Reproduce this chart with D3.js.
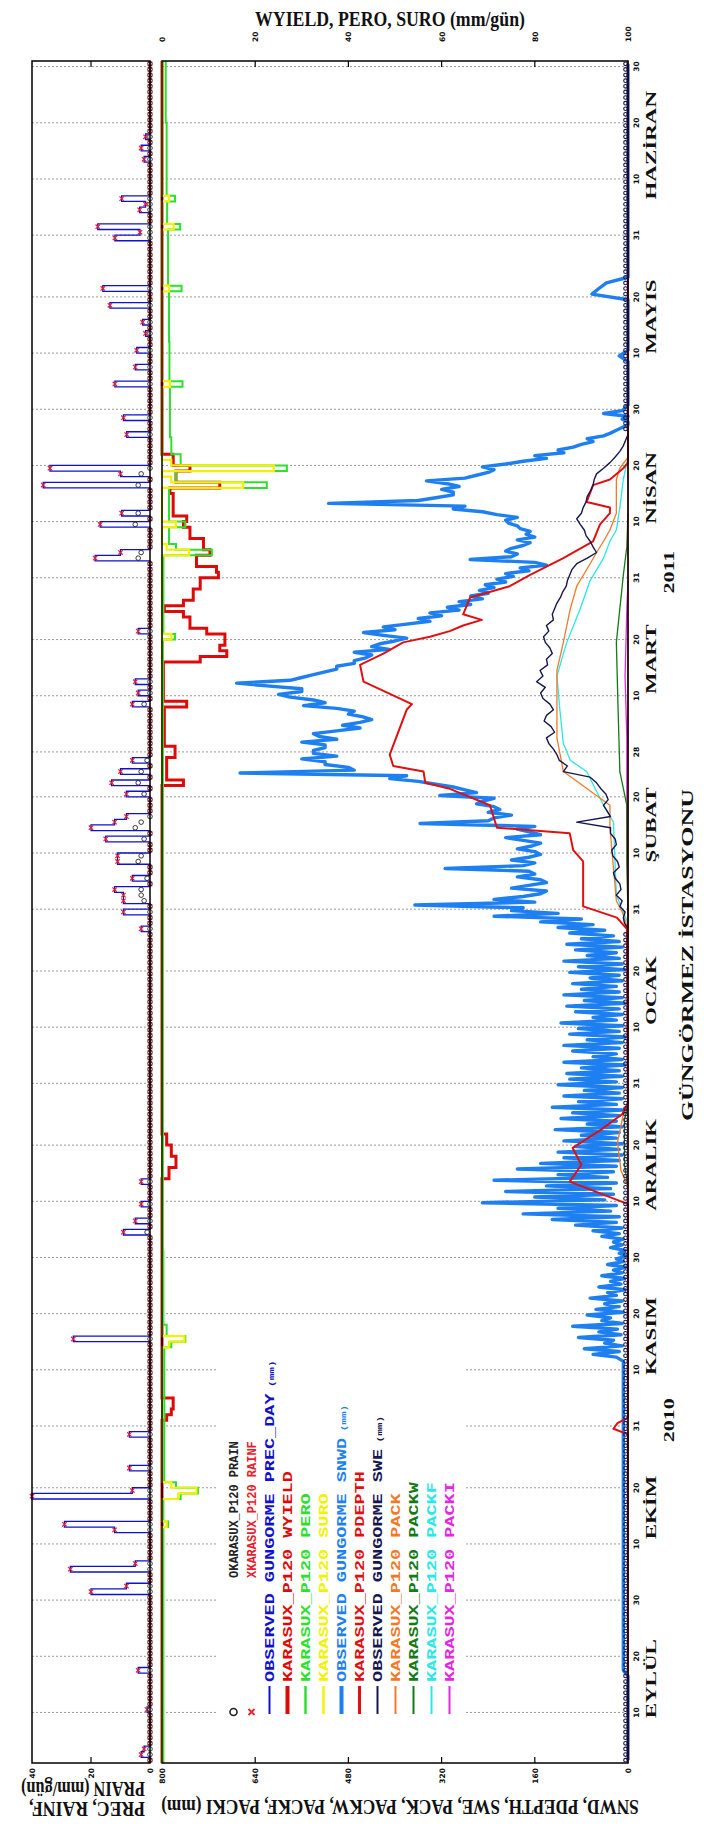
<!DOCTYPE html>
<html><head><meta charset="utf-8">
<script src="https://cdn.jsdelivr.net/npm/d3@7"></script>
<style>body{margin:0;background:#fff}</style>
</head><body><svg id="c" width="704" height="1832" xmlns="http://www.w3.org/2000/svg"></svg>
<script>
// ---------------- DATA ----------------
const monthNames = ["EYLÜL","EKİM","KASIM","ARALIK","OCAK","ŞUBAT","MART","NİSAN","MAYIS","HAZİRAN"];
const yearLabels = [["2010","11-01"],["2011","04-01"]];
const wyieldTicks = [0,20,40,60,80,100];
const depthTicks = [800,640,480,320,160,0];
const precTicks = [40,20,0];
const legendNames = ["KARASUX_P120 PRAIN","KARASUX_P120 RAINF","OBSERVED GUNGORME PREC_DAY","KARASUX_P120 WYIELD","KARASUX_P120 PERO","KARASUX_P120 SURO","OBSERVED GUNGORME SNWD","KARASUX_P120 PDEPTH","OBSERVED GUNGORME SWE","KARASUX_P120 PACK","KARASUX_P120 PACKW","KARASUX_P120 PACKF","KARASUX_P120 PACKI"];

// observed daily precipitation (mm/gün); days not listed = 0
const precObs = [["09-02",3],["09-03",2],["09-10",1],["09-17",4],["10-01",20],["10-02",8],["10-05",27],["10-06",5],
 ["10-12",12],["10-13",29],["10-18",40],["10-19",6],["10-23",7],["10-29",7],["11-15",26],
 ["12-04",9],["12-06",5],["12-09",3],["12-13",3],["01-27",3],["01-30",9],
 ["02-01",9],["02-02",9],["02-03",12],["02-05",6],["02-08",11],["02-09",11],["02-12",15],["02-14",20],["02-15",12],["02-16",8],["02-20",8],["02-22",13],["02-24",10],["02-26",6],
 ["03-08",6],["03-10",4],["03-12",5],["03-21",4],
 ["04-03",18.6],["04-04",10],["04-09",16.9],["04-11",9.6],["04-16",36.2],["04-18",10],["04-19",33.9],["04-25",7.9],["04-28",9],
 ["05-04",11.9],["05-07",5],["05-10",4.5],["05-13",1.5],["05-15",2.5],["05-18",13.6],["05-21",16],["05-30",11.9],["05-31",3.4],
 ["06-01",17.7],["06-04",3.5],["06-05",1.5],["06-06",9.6],["06-13",2],["06-15",3],["06-17",1.5]];
const rainfDays = [["09-02",3],["09-03",2],["09-10",1],["09-17",4],["10-01",20],["10-02",8],["10-05",27],["10-06",5],
 ["10-12",12],["10-13",29],["10-18",40],["10-19",6],["10-23",7],["10-29",7],["11-15",26],
 ["12-04",9],["12-06",5],["12-09",3],["12-13",3],["01-27",3],["01-30",9],
 ["02-01",9],["02-02",9],["02-03",12],["02-05",6],["02-08",11],["02-09",11],["02-12",15],["02-14",20],["02-15",12],["02-16",8],["02-20",8],["02-22",13],["02-24",10],["02-26",6],
 ["03-08",6],["03-10",4],["03-12",5],["03-21",4],
 ["04-03",18.6],["04-04",10],["04-09",16.9],["04-11",9.6],["04-16",36.2],["04-18",10],["04-19",33.9],["04-25",7.9],["04-28",9],
 ["05-04",11.9],["05-07",5],["05-10",4.5],["05-13",1.5],["05-15",2.5],["05-18",13.6],["05-21",16],["05-30",11.9],["05-31",3.4],
 ["06-01",17.7],["06-04",3.5],["06-05",1.5],["06-06",9.6],["06-13",2],["06-15",3],["06-17",1.5]];
const prainDays = [["12-04",1],["02-01",2],["02-02",3],["02-03",3],["02-05",1],["02-08",4],["02-09",3],["02-12",2],["02-14",5],["02-15",3],["02-20",2],["02-22",4],["02-24",3],["02-26",1],
 ["03-08",2],["04-03",4],["04-04",3],["04-09",5],["04-11",4],["04-16",4],["04-18",3]];

// model step series (value holds until next entry), mm/gün
const wyieldSteps = [["09-01",0],["11-01",1],["11-02",2],["11-03",2.4],["11-05",0],["12-14",1.5],["12-16",3],["12-18",2],["12-20",1],["12-22",0],
 ["02-22",4.6],["02-23",1],["02-27",2.8],["03-01",0.5],["03-08",5.3],["03-09",0.3],
 ["03-16",8.2],["03-17",13.9],["03-18",12.4],["03-19",13.5],["03-21",9.6],["03-22",6],["03-24",4.6],["03-25",0.5],
 ["03-26",4.6],["03-27",6.7],["03-29",8.2],["03-31",12.1],["04-01",11.7],["04-02",7.4],["04-04",10.3],["04-05",8.9],["04-07",6],["04-09",4.6],["04-10",5.3],["04-11",2.4],["04-15",1.7],["04-16",12.4],["04-17",3],["04-19",6],["04-20",2.4],["04-22",0]];
const peroSteps = [["09-01",0.3],["10-13",1.3],["10-14",0.3],["10-18",4],["10-19",7.7],["10-20",3],["10-21",0.5],["11-14",2],["11-15",5],["11-16",1],["11-18",0.3],["12-01",0.2],
 ["03-20",2.8],["03-21",0.3],["04-04",10.7],["04-05",3],["04-06",1.5],["04-09",5],["04-10",1.5],["04-16",22.5],["04-17",3],["04-19",26.8],["04-20",4],["04-22",2],["04-25",1.7],
 ["05-04",4.4],["05-05",1.6],["05-12",1.5],["05-21",4.2],["05-22",1.3],["06-01",3.9],["06-02",1.1],["06-06",2.8],["06-07",1],["06-20",0.8]];
const suroSteps = [["09-01",0],["10-13",1],["10-14",0],["10-18",3.5],["10-19",7.4],["10-20",2],["10-21",0],["11-14",1.5],["11-15",4.8],["11-16",0],
 ["03-20",2],["03-21",0],["04-04",5.8],["04-05",1],["04-06",0],["04-09",3],["04-10",0],["04-16",17.4],["04-17",2],["04-18",0],["04-19",24],["04-20",2],["04-21",0],
 ["05-04",1.7],["05-05",0],["05-21",1.5],["05-22",0],["06-01",2.5],["06-02",0],["06-06",1.5],["06-07",0]];

// observed snow depth (mm): sparse points, then 12-hourly readings from 11-12 to 04-30, then sparse
const snwdEarly = [["09-01",0],["09-16",0],["09-17",8],["11-11",8]];
const snwdHalfDailyStart = "11-12";
const snwdHalfDaily = [
 20,60, 15,75, 10,40, 25,85, 12,50, 18,95, 10,45, 30,70, 8,55, 15,40, 10,65, 20,35, 5,50, 12,30, 6,45, 10,25, 4,35, 8,20, 3,15,
 5,30, 10,25, 8,45, 15,60, 10,90, 20,130, 15,180, 30,120, 20,250, 40,160, 25,210, 30,140, 20,230, 35,120, 25,190, 20,150, 15,110,
 10,120, 15,90, 10,110, 20,80, 15,125, 10,70, 20,115, 15,95, 10,130, 20,85, 10,110, 15,75, 10,120, 20,100,
 10,105, 15,80, 5,110, 10,60, 20,95, 15,110, 10,70, 5,100, 15,85, 10,115, 20,60, 10,90, 15,105, 5,75, 10,110, 15,80, 20,95, 10,65, 15,100, 5,85, 10,110, 15,70, 20,90, 10,105, 15,80, 25,100,
 40,120, 60,150, 80,230, 120,200, 180,366,
 160,230, 180,150, 140,200, 170,140, 150,190, 160,170, 314,180, 160,200, 170,150, 160,190, 165,150, 180,210, 150,170, 190,160, 357,240, 230,200, 240,220, 230,260, 248,230, 323,260, 280,300, 330,360, 409,380, 666,470, 480,520, 520,560, 500,540, 540,520,
 520,560, 500,530, 540,500, 460,490, 460,440, 455,480, 470,500, 557,520, 540,580, 600,560, 560,620, 672,580, 560,540, 520,500, 500,470, 470,450, 440,470, 410,440, 426,400, 380,420, 454,400, 420,380, 340,360, 320,340, 290,310, 270,290, 250,270, 240,255, 230,245, 210,225, 197,210,
 170,185, 140,160, 271,200, 190,210, 200,180, 168,190, 160,175, 168,185, 190,205, 210,190, 225,250, 300,280, 514,360, 330,300, 300,320, 290,310, 346,280, 260,240, 230,250, 210,180, 140,160, 110,120, 94,80, 60,70, 42,30, 20,10, 0,0, 10,0, 42,10, 5,0];
const snwdLate = [["05-01",0],["05-08",0],["05-09",15],["05-10",0],["05-19",0],["05-20",62],["05-21",50],["05-22",37],["05-23",0],["06-30",0]];

const pdepth = [["09-01",0],["10-29",0],["10-30",25],["10-31",18],["11-01",0],["12-09",0],["12-11",50],["12-13",100],["12-16",80],["12-19",95],["12-22",50],["12-25",10],["12-27",0],
 ["01-27",2],["01-29",19],["01-31",77],["02-08",77],["02-10",94],["02-13",100],["02-14",225],["02-18",237],["02-21",308],["02-22",348],["02-24",351],["02-25",403],["02-27",409],["03-07",380],["03-08",371],["03-12",454],["03-15",460],["03-17",420],["03-19",386],["03-20",340],["03-21",306],["03-22",283],["03-23",251],["03-24",283],["03-27",271],["03-29",203],["03-31",168],["04-03",111],["04-06",60],["04-09",48],["04-11",31],["04-12",31],["04-13",71],["04-16",60],["04-17",31],["04-19",8],["04-20",0],["06-30",0]];
const sweObs = [["01-27",0],["01-28",6],["01-29",8],["01-30",5],["01-31",14],["02-01",10],["02-02",20],["02-03",12],["02-04",14],["02-05",22],["02-06",25],["02-07",15],["02-08",18],["02-09",26],["02-10",28],["02-11",20],["02-12",22],["02-13",30],["02-14",30],["02-15",88],["02-16",30],["02-17",36],["02-18",42],["02-19",34],["02-20",38],["02-21",47],["02-22",54],["02-23",65],["02-24",111],["02-25",104],["02-26",118],["02-27",122],["02-28",128],
 ["03-01",136],["03-02",140],["03-03",126],["03-04",132],["03-05",144],["03-06",140],["03-07",128],["03-08",134],["03-09",146],["03-10",150],["03-11",142],["03-12",157],["03-13",146],["03-14",151],["03-15",138],["03-16",140],["03-17",130],["03-18",134],["03-19",142],["03-20",145],["03-21",136],["03-22",140],["03-23",128],["03-24",130],["03-25",126],["03-26",122],["03-27",116],["03-28",112],["03-29",106],["03-30",104],["03-31",100],
 ["04-01",96],["04-02",88],["04-03",70],["04-04",54],["04-05",60],["04-06",65],["04-07",72],["04-08",75],["04-09",82],["04-10",88],["04-11",80],["04-12",77],["04-13",72],["04-14",70],["04-15",64],["04-16",60],["04-17",58],["04-18",54],["04-19",42],["04-20",31],["04-21",22],["04-22",14],["04-23",8],["04-25",0]];
const pack = [["12-12",0],["12-15",12],["12-20",18],["12-25",8],["12-27",0],["01-27",0],["01-30",10],["02-01",20],["02-14",31],["02-18",31],["02-24",111],["03-02",122],["03-14",122],["03-19",111],["03-25",99],["03-29",88],["04-02",65],["04-04",54],["04-06",42],["04-08",31],["04-11",20],["04-17",20],["04-19",14],["04-21",0]];
const packf = [["01-28",0],["02-02",20],["02-15",25],["02-18",42],["02-24",71],["02-26",99],["03-01",111],["03-07",117],["03-13",122],["03-17",111],["03-19",105],["03-25",82],["03-30",65],["04-03",42],["04-06",31],["04-08",20],["04-12",14],["04-17",8],["04-21",0]];
const packw = [["12-12",0],["12-16",6],["12-24",6],["12-27",0],["01-29",0],["02-08",2],["02-18",2],["02-24",14],["03-07",17],["03-19",20],["03-25",14],["03-31",8],["04-05",2],["04-11",0]];
const packi = [["01-27",0],["02-18",2],["03-02",2],["03-13",5],["03-25",2],["03-30",0]];

// ---------------- STYLE / LAYOUT ----------------
const C = {prec:"#1010d0", rainf:"#e8202a", prain:"#222", wyield:"#dd0a0a", pero:"#2ee02e", suro:"#f2f200", snwd:"#1e7ff0",
  pdepth:"#e01010", swe:"#161650", pack:"#f07a28", packw:"#157a15", packf:"#28e8e8", packi:"#e028e0"};
const legendColors = [C.prain,C.rainf,C.prec,C.wyield,C.pero,C.suro,C.snwd,C.pdepth,C.swe,C.pack,C.packw,C.packf,C.packi];
const legendWidths = [0,0,2,4,2.5,2.5,4,3,2,2,2,2,2];
const T=61,B=1763,L1=32,R1=150,L2=162,R2=628;
const SQ = 0.65; // horizontal squeeze of the original picture
const serif = "'Liberation Serif','Times New Roman',serif";
const mono = "'Liberation Mono','DejaVu Sans Mono',monospace";

const svg = d3.select("#c");
const t0 = new Date(2010,8,1), t1 = new Date(2011,6,1);
const y = d3.scaleTime().domain([t0,t1]).range([B,T]);
const xP = d3.scaleLinear().domain([40,0]).range([L1,R1]);
const xW = d3.scaleLinear().domain([0,100]).range([L2,R2]);
const xS = d3.scaleLinear().domain([800,0]).range([L2,R2]);
const days = d3.timeDay.range(t0,t1);
const fmt = d3.timeFormat("%m-%d");
function dt(s){const p=s.split("-").map(Number);return new Date(p[0]>=9?2010:2011,p[0]-1,p[1]);}
function daily(arr){const m=new Map(arr);return days.map(d=>m.get(fmt(d))||0);}
function hold(arr){const pts=arr.map(([k,v])=>[dt(k),v]);let i=0,cur=0;return days.map(d=>{while(i<pts.length&&pts[i][0]<=d){cur=pts[i][1];i++;}return cur;});}
const mid = d => new Date(+d + 12*3600e3);
const vtext = (sel,x,yy,size,sq=SQ)=>sel.append("text").attr("transform",`translate(${x},${yy}) scale(${sq},1) rotate(-90)`).attr("font-size",size);
// horizontal (or upside-down) title squeezed to a target length
function htext(x,yy,rot,size,target,anchor,str){
  const t = svg.append("text").attr("font-family",serif).attr("font-weight","bold").attr("font-size",size).attr("text-anchor",anchor).attr("fill","#111").text(str);
  const k = target / t.node().getComputedTextLength();
  t.attr("transform",`translate(${x},${yy}) rotate(${rot}) scale(${k},1)`);
  return t;
}

// gridlines
const grid = [];
d3.timeMonth.range(t0,t1).forEach(m=>{grid.push(new Date(m.getFullYear(),m.getMonth(),10),new Date(m.getFullYear(),m.getMonth(),20),new Date(m.getFullYear(),m.getMonth()+1,0));});
const gG = svg.append("g");
[[L1,R1],[L2,R2]].forEach(([a,b])=>{
  gG.selectAll(null).data(grid).join("line").attr("x1",a).attr("x2",b).attr("y1",d=>y(d)).attr("y2",d=>y(d))
    .attr("stroke","#9a9a9a").attr("stroke-width",1).attr("stroke-dasharray","2,2");
});

// ---- left panel: precipitation
const stepLine = (xs)=>d3.line().x(d=>xs(d[0])).y(d=>y(d[1])).curve(d3.curveStepBefore);
function stepPts(vals){const p=vals.map((v,i)=>[v,days[i]]);p.push([vals[vals.length-1],t1]);return p;}
svg.append("path").attr("d",stepLine(xP)(stepPts(daily(precObs)))).attr("fill","none").attr("stroke",C.prec).attr("stroke-width",1.3);
const rainfVals = daily(rainfDays), prainVals = daily(prainDays);
const gM = svg.append("g");
days.forEach((d,i)=>{
  const cy = y(mid(d)), cx = xP(rainfVals[i]);
  gM.append("path").attr("d",`M${cx-2.2},${cy-2.2}L${cx+2.2},${cy+2.2}M${cx-2.2},${cy+2.2}L${cx+2.2},${cy-2.2}`).attr("stroke",C.rainf).attr("stroke-width",1.2);
  gM.append("circle").attr("cx",xP(prainVals[i])).attr("cy",cy).attr("r",2.3).attr("fill","none").attr("stroke",C.prain).attr("stroke-width",0.9);
});

// ---- right panel: snow series
const lineS = d3.line().x(d=>xS(d[1])).y(d=>y(d[0]));
const pts = arr => arr.map(([k,v])=>[mid(dt(k)),v]);
const snwdAll = pts(snwdEarly)
  .concat(snwdHalfDaily.map((v,i)=>[new Date(+dt(snwdHalfDailyStart) + (i*12+6)*3600e3), v]))
  .concat(pts(snwdLate));
function drawLine(data,color,w){svg.append("path").attr("d",lineS(data)).attr("fill","none").attr("stroke",color).attr("stroke-width",w).attr("stroke-linejoin","round");}
drawLine(snwdAll,C.snwd,3.4);
drawLine(pts(packi),C.packi,1.3);
drawLine(pts(packw),C.packw,1.3);
drawLine(pts(packf),C.packf,1.3);
drawLine(pts(pack),C.pack,1.3);
drawLine(pts(pdepth),C.pdepth,2);
drawLine(pts(sweObs),C.swe,1.4);
const sweSpan=[dt("01-27"),dt("04-25")];
svg.append("g").selectAll("circle").data(days.filter(d=>d<sweSpan[0]||d>sweSpan[1])).join("circle")
  .attr("cx",xS(0)-2.5).attr("cy",d=>y(mid(d))).attr("r",1.8).attr("fill","none").attr("stroke",C.swe).attr("stroke-width",1.1);
svg.append("line").attr("x1",xS(0)).attr("x2",xS(0)).attr("y1",T).attr("y2",B).attr("stroke",C.pdepth).attr("stroke-width",1.2);

// ---- right panel: water yield series
svg.append("path").attr("d",stepLine(xW)(stepPts(hold(wyieldSteps)))).attr("fill","none").attr("stroke",C.wyield).attr("stroke-width",3);
svg.append("path").attr("d",stepLine(xW)(stepPts(hold(peroSteps)))).attr("fill","none").attr("stroke",C.pero).attr("stroke-width",2);
svg.append("path").attr("d",stepLine(xW)(stepPts(hold(suroSteps)))).attr("fill","none").attr("stroke",C.suro).attr("stroke-width",2.2);

// ---- frames & ticks
[[L1,R1],[L2,R2]].forEach(([a,b])=>svg.append("rect").attr("x",a).attr("y",T).attr("width",b-a).attr("height",B-T).attr("fill","none").attr("stroke","#000").attr("stroke-width",1.5));
const tk = svg.append("g").attr("stroke","#000").attr("stroke-width",1.2);
precTicks.slice(1,-1).forEach(v=>{tk.append("line").attr("x1",xP(v)).attr("x2",xP(v)).attr("y1",T).attr("y2",T+6);tk.append("line").attr("x1",xP(v)).attr("x2",xP(v)).attr("y1",B).attr("y2",B-6);});
wyieldTicks.slice(1,-1).forEach(v=>tk.append("line").attr("x1",xW(v)).attr("x2",xW(v)).attr("y1",T).attr("y2",T+6));
depthTicks.slice(1,-1).forEach(v=>tk.append("line").attr("x1",xS(v)).attr("x2",xS(v)).attr("y1",B).attr("y2",B-6));

const tl = svg.append("g").attr("font-family","'DejaVu Sans',sans-serif").attr("font-size",7.5).attr("font-weight","bold").attr("fill","#111");
wyieldTicks.forEach(v=>tl.append("text").attr("transform",`translate(${xW(v)+3},42) rotate(-90)`).attr("text-anchor","start").text(v));
depthTicks.forEach(v=>tl.append("text").attr("transform",`translate(${xS(v)+3},1768) rotate(-90)`).attr("text-anchor","end").text(v));
precTicks.forEach(v=>tl.append("text").attr("transform",`translate(${xP(v)+3},1768) rotate(-90)`).attr("text-anchor","end").text(v));
grid.forEach(d=>tl.append("text").attr("transform",`translate(638.5,${y(d)}) rotate(-90)`).attr("text-anchor","middle").text(d.getDate()));

// month / year / station labels
const ml = svg.append("g").attr("font-family",serif).attr("font-weight","bold").attr("fill","#111").attr("text-anchor","middle");
d3.timeMonth.range(t0,t1).forEach((m,i)=>{
  const e = d3.timeMonth.offset(m,1); const c = new Date((+m + +e)/2);
  vtext(ml,656,y(c),23).text(monthNames[i]);
});
yearLabels.forEach(([t,d])=>vtext(ml,674,y(dt(d)),22).text(t));
vtext(ml,693,955,26).text("GÜNGÖRMEZ İSTASYONU");

// axis titles
htext(390,26,0,22,270,"middle","WYIELD, PERO, SURO (mm/gün)");
htext(400,1800,180,22,478,"middle","SNWD, PDEPTH, SWE, PACK, PACKW, PACKF, PACKI (mm)");
htext(145,1802,180,21,116,"start","PREC, RAINF,");
htext(145,1782,180,21,124,"start","PRAIN (mm/gün)");

// legend
const lg = svg.append("g");
lg.append("rect").attr("x",217).attr("y",1345).attr("width",248).attr("height",382).attr("fill","#fff");
legendNames.forEach((n,i)=>{
  const x = 233.5 + 18*i;
  const first = i<2;
  if(i===0) lg.append("circle").attr("cx",x).attr("cy",1712).attr("r",3.5).attr("fill","none").attr("stroke",C.prain).attr("stroke-width",1.6);
  else if(i===1) lg.append("path").attr("d",`M${x-3},1709L${x+3},1715M${x-3},1715L${x+3},1709`).attr("stroke",C.rainf).attr("stroke-width",1.8);
  else lg.append("line").attr("x1",x).attr("x2",x).attr("y1",1714).attr("y2",1686).attr("stroke",legendColors[i]).attr("stroke-width",legendWidths[i]);
  const t = first ? vtext(lg, x+4, 1578, 12, 1) : vtext(lg, x+4, 1682, 18.5);
  t.attr("font-family",mono).attr("font-weight","bold").attr("fill",legendColors[i]);
  t.append("tspan").text((i===0?"O":i===1?"X":"")+n);
  if(n.startsWith("OBSERVED")) t.append("tspan").attr("font-size",11).text(" (mm)");
});
</script></body></html>
